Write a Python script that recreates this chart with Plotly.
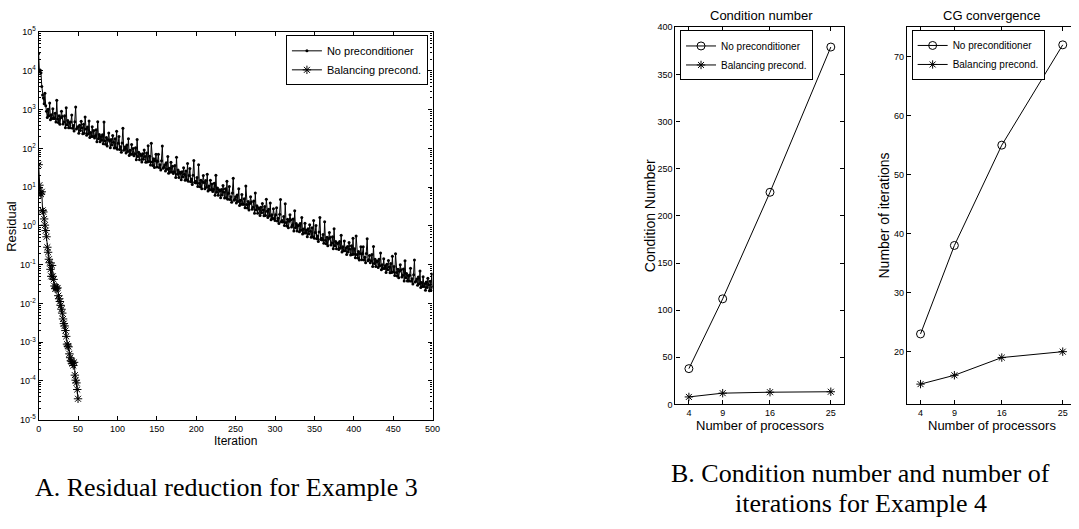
import plotly.graph_objects as go
import numpy as np

# ---------------- Data ----------------
# Panel A: residual (log10) per iteration
residual_noprec_log10 = [
    4.45, 3.98, 4.02, 3.95, 3.60, 3.38, 3.30, 3.15, 3.42, 3.10,
    2.96, 2.80, 3.01, 2.84, 3.17, 2.74, 2.87, 2.77, 3.02, 2.77,
    2.77, 2.91, 2.68, 3.24, 2.76, 2.67, 2.84, 2.62, 2.79, 2.96,
    2.82, 2.63, 2.68, 2.84, 2.53, 3.05, 2.61, 2.72, 2.53, 2.67,
    2.53, 2.68, 2.86, 2.52, 2.59, 2.45, 2.69, 3.07, 2.50, 2.53,
    2.56, 2.39, 2.60, 2.46, 2.70, 2.53, 2.38, 2.62, 2.39, 2.81,
    2.50, 2.34, 2.55, 2.38, 2.71, 2.28, 2.41, 2.31, 2.56, 2.31,
    2.46, 2.27, 2.32, 2.48, 2.17, 2.69, 2.25, 2.36, 2.17, 2.31,
    2.21, 2.35, 2.12, 2.68, 2.20, 2.11, 2.28, 2.06, 2.23, 2.40,
    2.19, 2.02, 2.23, 2.09, 2.33, 2.16, 2.01, 2.25, 2.02, 2.44,
    1.98, 2.13, 2.31, 1.97, 2.04, 1.90, 2.14, 2.52, 1.95, 1.98,
    2.04, 1.88, 2.09, 1.92, 2.25, 1.82, 1.95, 1.85, 2.10, 1.85,
    2.00, 1.81, 1.86, 2.02, 1.71, 2.23, 1.79, 1.90, 1.71, 1.85,
    1.82, 1.65, 1.86, 1.72, 1.96, 1.79, 1.64, 1.88, 1.65, 2.07,
    1.66, 1.80, 1.57, 2.13, 1.65, 1.56, 1.73, 1.51, 1.68, 1.85,
    1.52, 1.67, 1.85, 1.51, 1.58, 1.44, 1.68, 2.06, 1.49, 1.52,
    1.58, 1.42, 1.63, 1.46, 1.79, 1.36, 1.49, 1.39, 1.64, 1.39,
    1.54, 1.35, 1.40, 1.56, 1.25, 1.77, 1.33, 1.44, 1.25, 1.39,
    1.36, 1.19, 1.40, 1.26, 1.50, 1.33, 1.18, 1.42, 1.19, 1.61,
    1.15, 1.30, 1.48, 1.14, 1.21, 1.07, 1.31, 1.69, 1.12, 1.15,
    1.11, 1.25, 1.02, 1.58, 1.10, 1.01, 1.18, 0.96, 1.13, 1.30,
    1.12, 0.96, 1.17, 1.00, 1.33, 0.90, 1.03, 0.93, 1.18, 0.93,
    1.08, 0.89, 0.94, 1.10, 0.79, 1.31, 0.87, 0.98, 0.79, 0.93,
    0.90, 0.73, 0.94, 0.80, 1.04, 0.87, 0.72, 0.96, 0.73, 1.15,
    0.69, 0.84, 1.02, 0.68, 0.75, 0.61, 0.85, 1.23, 0.66, 0.69,
    0.75, 0.59, 0.80, 0.63, 0.96, 0.53, 0.66, 0.56, 0.81, 0.56,
    0.56, 0.70, 0.47, 1.03, 0.55, 0.46, 0.63, 0.41, 0.58, 0.75,
    0.62, 0.43, 0.48, 0.64, 0.33, 0.85, 0.41, 0.52, 0.33, 0.47,
    0.44, 0.27, 0.48, 0.34, 0.58, 0.41, 0.26, 0.50, 0.27, 0.69,
    0.38, 0.22, 0.43, 0.26, 0.59, 0.16, 0.29, 0.19, 0.44, 0.19,
    0.14, 0.29, 0.47, 0.13, 0.20, 0.06, 0.30, 0.68, 0.11, 0.14,
    0.10, 0.24, 0.01, 0.57, 0.09, 0.00, 0.17, -0.05, 0.12, 0.29,
    0.16, -0.03, 0.02, 0.18, -0.13, 0.39, -0.05, 0.06, -0.13, 0.01,
    0.01, -0.15, 0.06, -0.11, 0.22, -0.21, -0.08, -0.18, 0.07, -0.18,
    -0.11, -0.28, -0.07, -0.21, 0.03, -0.14, -0.29, -0.05, -0.28, 0.14,
    -0.32, -0.17, 0.01, -0.33, -0.26, -0.40, -0.16, 0.22, -0.35, -0.32,
    -0.36, -0.22, -0.45, 0.11, -0.37, -0.46, -0.29, -0.51, -0.34, -0.17,
    -0.30, -0.49, -0.44, -0.28, -0.59, -0.07, -0.51, -0.40, -0.59, -0.45,
    -0.45, -0.61, -0.40, -0.57, -0.24, -0.67, -0.54, -0.64, -0.39, -0.64,
    -0.57, -0.74, -0.53, -0.67, -0.43, -0.60, -0.75, -0.51, -0.74, -0.32,
    -0.73, -0.59, -0.82, -0.26, -0.74, -0.83, -0.66, -0.88, -0.71, -0.54,
    -0.87, -0.72, -0.54, -0.88, -0.81, -0.95, -0.71, -0.33, -0.90, -0.87,
    -0.76, -0.95, -0.90, -0.74, -1.05, -0.53, -0.97, -0.86, -1.05, -0.91,
    -0.91, -1.07, -0.86, -1.03, -0.70, -1.13, -1.00, -1.10, -0.85, -1.10,
    -1.03, -1.20, -0.99, -1.13, -0.89, -1.06, -1.21, -0.97, -1.20, -0.78,
    -1.19, -1.05, -1.28, -0.72, -1.20, -1.29, -1.12, -1.34, -1.17, -1.00,
    -1.13, -1.32, -1.27, -1.11, -1.42, -0.90, -1.34, -1.23, -1.42, -1.28,
    -1.42, -1.27, -1.09, -1.43, -1.36, -1.50, -1.26, -0.88, -1.45, -1.42,
    -1.37, -1.53, -1.32, -1.49, -1.16, -1.59, -1.46, -1.56, -1.31, -1.56,
    -1.49, -1.66, -1.45, -1.59, -1.35, -1.52, -1.67, -1.43, -1.66, -1.24,
    -1.58,
]
residual_balancing_log10 = [
    1.58, 1.05, 0.85, 0.82, 0.88, 0.40, 0.36, 0.18, 0.02, -0.12,
    -0.28, -0.55, -0.68, -0.86, -0.95, -1.12, -1.30, -1.02, -1.30, -1.38,
    -1.55, -1.62, -1.58, -1.62, -1.60, -1.80, -1.88, -1.95, -2.05, -2.15,
    -2.25, -2.40, -2.52, -2.58, -2.70, -2.85, -3.05, -3.10, -3.12, -3.30,
    -3.40, -3.48, -3.50, -3.55, -3.60, -3.52, -3.85, -3.98, -4.05, -4.22,
    -4.46,
]
log_tick_exponents = [-5, -4, -3, -2, -1, 0, 1, 2, 3, 4, 5]
iteration_ticks = [0, 50, 100, 150, 200, 250, 300, 350, 400, 450, 500]

# Panel B: processors
processors = [4, 9, 16, 25]
cond_noprec = [38, 112, 225, 379]
cond_balancing = [8, 12, 13, 13.5]
iters_noprec = [23, 38, 55, 72]
iters_balancing = [14.5, 16, 19, 20]

# ---------------- Figure ----------------
W, H = 1079, 529
SANS = "Liberation Sans, Arial, Helvetica, sans-serif"
SERIF = "Liberation Serif, Times New Roman, serif"

it_noprec = list(range(len(residual_noprec_log10)))
it_bal = list(range(len(residual_balancing_log10)))

fig = go.Figure()

fig.add_trace(go.Scatter(
    x=it_noprec, y=np.power(10.0, residual_noprec_log10),
    mode="lines+markers", name="No preconditioner",
    line=dict(color="black", width=1),
    marker=dict(symbol="circle", size=3, color="black"),
    xaxis="x", yaxis="y", legend="legend"))
fig.add_trace(go.Scatter(
    x=it_bal, y=np.power(10.0, residual_balancing_log10),
    mode="lines+markers", name="Balancing precond.",
    line=dict(color="black", width=1),
    marker=dict(symbol="asterisk-open", size=7, color="black", line=dict(width=1, color="black")),
    xaxis="x", yaxis="y", legend="legend"))

fig.add_trace(go.Scatter(
    x=processors, y=cond_noprec, mode="lines+markers", name="No preconditioner",
    line=dict(color="black", width=1),
    marker=dict(symbol="circle-open", size=8, color="black", line=dict(width=1, color="black")),
    xaxis="x2", yaxis="y2", legend="legend2"))
fig.add_trace(go.Scatter(
    x=processors, y=cond_balancing, mode="lines+markers", name="Balancing precond.",
    line=dict(color="black", width=1),
    marker=dict(symbol="asterisk-open", size=7, color="black", line=dict(width=1, color="black")),
    xaxis="x2", yaxis="y2", legend="legend2"))

fig.add_trace(go.Scatter(
    x=processors, y=iters_noprec, mode="lines+markers", name="No preconditioner",
    line=dict(color="black", width=1),
    marker=dict(symbol="circle-open", size=8, color="black", line=dict(width=1, color="black")),
    xaxis="x3", yaxis="y3", legend="legend3"))
fig.add_trace(go.Scatter(
    x=processors, y=iters_balancing, mode="lines+markers", name="Balancing precond.",
    line=dict(color="black", width=1),
    marker=dict(symbol="asterisk-open", size=7, color="black", line=dict(width=1, color="black")),
    xaxis="x3", yaxis="y3", legend="legend3"))

tickfont = dict(family=SANS, size=9, color="black")
common = dict(showline=True, linecolor="black", linewidth=1.3, ticks="inside",
              ticklen=4, tickwidth=1, tickcolor="black", showgrid=False,
              zeroline=False, tickfont=tickfont)


def px_x(p):
    return p / W


def px_y(p):
    return 1 - p / H


log_tickvals = [10.0 ** e for e in log_tick_exponents]
log_ticktext = [f"10<sup>{e}</sup>" for e in log_tick_exponents]

legend_style = dict(bgcolor="white", bordercolor="black", borderwidth=1, itemwidth=30)

fig.update_layout(
    width=W, height=H, margin=dict(l=0, r=0, t=0, b=0),
    paper_bgcolor="white", plot_bgcolor="white",
    font=dict(family=SANS, color="black", size=9),
    xaxis=dict(domain=[px_x(36), px_x(434)], range=[0, 500], tickmode="array",
               tickvals=iteration_ticks, ticktext=[str(v) for v in iteration_ticks],
               mirror="allticks", anchor="y", **common),
    yaxis=dict(domain=[px_y(422.3), px_y(25.7)], type="log", range=[-5, 5],
               tickmode="array", tickvals=log_tickvals, ticktext=log_ticktext,
               minor=dict(ticks="inside", ticklen=2, tickmode="linear", dtick="D1",
                          tickcolor="black", showgrid=False),
               mirror="allticks", anchor="x", **common),
    xaxis2=dict(domain=[px_x(679.3), px_x(850)], range=[2, 27], tickmode="array",
                tickvals=processors, mirror="allticks", anchor="y2", **common),
    yaxis2=dict(domain=[px_y(406.7), px_y(20.7)], range=[0, 400], dtick=50,
                mirror="allticks", anchor="x2", **common),
    xaxis3=dict(domain=[px_x(913.3), 1.0], range=[2, 26.22], tickmode="array",
                tickvals=processors, mirror="allticks", anchor="y3", **common),
    yaxis3=dict(domain=[px_y(406.7), px_y(20.0)], range=[11.05, 75.1], dtick=10,
                mirror=False, anchor="x3", **common),
    showlegend=True,
    legend=dict(x=px_x(429.3), xanchor="right", y=px_y(29), yanchor="top",
                font=dict(family=SANS, size=11, color="black"), **legend_style),
    legend2=dict(x=px_x(684), xanchor="left", y=px_y(24), yanchor="top",
                 font=dict(family=SANS, size=10, color="black"), **legend_style),
    legend3=dict(x=px_x(918), xanchor="left", y=px_y(23.5), yanchor="top",
                 font=dict(family=SANS, size=10, color="black"), **legend_style),
)


def ann(text, x, y, size, angle=0, family=SANS, xanchor="center"):
    fig.add_annotation(text=text, x=x, y=y, xref="paper", yref="paper",
                       showarrow=False, textangle=angle, xanchor=xanchor, yanchor="middle",
                       font=dict(family=family, size=size, color="black"))


ann("Residual", px_x(9), px_y(224), 13, angle=-90)
ann("Iteration", px_x(235), px_y(444), 12)
ann("Condition number", px_x(766), px_y(9), 13)
ann("CG convergence", px_x(999), px_y(9), 13)
ann("Number of processors", px_x(764.5), px_y(428), 13)
ann("Number of processors", px_x(999), px_y(428), 13)
ann("Condition Number", px_x(654), px_y(213.7), 14, angle=-90)
ann("Number of iterations", px_x(890), px_y(213.4), 14, angle=-90)
ann("A. Residual reduction for Example 3", px_x(30), px_y(492), 26, family=SERIF, xanchor="left")
ann("B. Condition number and number of", px_x(866.5), px_y(477), 26, family=SERIF)
ann("iterations for Example 4", px_x(866.5), px_y(508), 26, family=SERIF)

fig.write_html("out.html")
